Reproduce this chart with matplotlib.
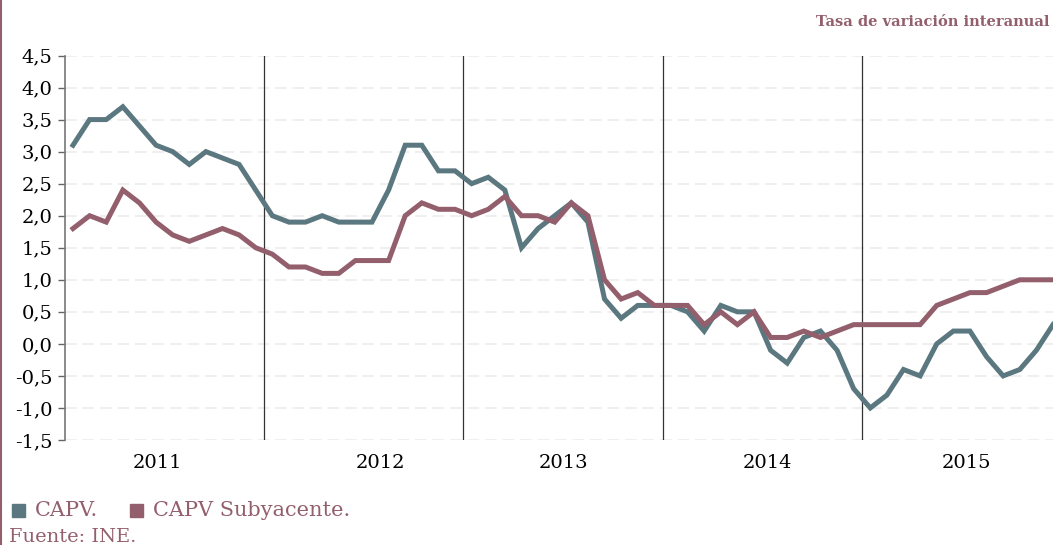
import matplotlib
matplotlib.use("Agg")
import matplotlib.pyplot as plt
from matplotlib.lines import Line2D
from matplotlib.patches import Rectangle

# ---- data ----
years = ["2011", "2012", "2013", "2014", "2015"]
capv = [3.1, 3.5, 3.5, 3.7, 3.4, 3.1, 3.0, 2.8, 3.0, 2.9, 2.8, 2.4,
        2.0, 1.9, 1.9, 2.0, 1.9, 1.9, 1.9, 2.4, 3.1, 3.1, 2.7, 2.7,
        2.5, 2.6, 2.4, 1.5, 1.8, 2.0, 2.2, 1.9, 0.7, 0.4, 0.6, 0.6,
        0.6, 0.5, 0.2, 0.6, 0.5, 0.5, -0.1, -0.3, 0.1, 0.2, -0.1, -0.7,
        -1.0, -0.8, -0.4, -0.5, 0.0, 0.2, 0.2, -0.2, -0.5, -0.4, -0.1, 0.3]
capv_sub = [1.8, 2.0, 1.9, 2.4, 2.2, 1.9, 1.7, 1.6, 1.7, 1.8, 1.7, 1.5,
            1.4, 1.2, 1.2, 1.1, 1.1, 1.3, 1.3, 1.3, 2.0, 2.2, 2.1, 2.1,
            2.0, 2.1, 2.3, 2.0, 2.0, 1.9, 2.2, 2.0, 1.0, 0.7, 0.8, 0.6,
            0.6, 0.6, 0.3, 0.5, 0.3, 0.5, 0.1, 0.1, 0.2, 0.1, 0.2, 0.3,
            0.3, 0.3, 0.3, 0.3, 0.6, 0.7, 0.8, 0.8, 0.9, 1.0, 1.0, 1.0]
yticks = [-1.5, -1.0, -0.5, 0.0, 0.5, 1.0, 1.5, 2.0, 2.5, 3.0, 3.5, 4.0, 4.5]
ytick_labels = [f"{v:.1f}".replace(".", ",") for v in yticks]
series_names = ["CAPV.", "CAPV Subyacente."]

# ---- style ----
C_BLUE = "#5b777f"
C_MAUVE = "#935f6d"
FONT = "DejaVu Serif"
plt.rcParams["font.family"] = [FONT, "DejaVu Sans"]

W, H = 1053, 545
fig = plt.figure(figsize=(W / 100, H / 100), dpi=100)
ax_left, ax_right = 64.7 / W, 1053 / W
ax_bottom, ax_top = (H - 440) / H, (H - 55.5) / H
ax = fig.add_axes([ax_left, ax_bottom, ax_right - ax_left, ax_top - ax_bottom])

x = list(range(len(capv)))
ax.plot(x, capv, color=C_BLUE, lw=3.6, solid_joinstyle="miter", zorder=3, clip_on=True)
ax.plot(x, capv_sub, color=C_MAUVE, lw=3.6, solid_joinstyle="miter", zorder=4, clip_on=True)

ax.set_xlim(-0.5, len(capv) - 1)
ax.set_ylim(-1.5, 4.5)

# gridlines
for v in yticks:
    ax.axhline(v, color="#ececec", lw=1.2, ls=(0, (7, 3.5)), zorder=1)

# year separators
for k in range(1, len(years)):
    ax.axvline(12 * k - 0.5, color="#333333", lw=0.9, zorder=2)

ax.set_yticks(yticks)
ax.set_yticklabels(ytick_labels, fontsize=14, color="#000000")
ax.tick_params(axis="y", length=5, width=1, color="#666666", pad=4)
ax.set_xticks([])
for s in ["top", "right", "bottom"]:
    ax.spines[s].set_visible(False)
ax.spines["left"].set_color("#777777")
ax.spines["left"].set_linewidth(1.2)

# year labels
year_pos = [5.1, 18.5, 29.5, 41.8, 53.8]
for lab, p in zip(years, year_pos):
    ax.text(p, -1.5 - 23 / 64, lab, ha="center", va="center", fontsize=14, color="#000000")

# title
fig.text(1050 / W, 1 - 22 / H, "Tasa de variación interanual", ha="right", va="center",
         fontsize=10.5, fontweight="bold", color=C_MAUVE)

# legend
def fx(px):
    return px / W

def fy(py):
    return 1 - py / H

fig.add_artist(Rectangle((fx(12), fy(517)), 13 / W, 13 / H, color=C_BLUE, transform=fig.transFigure))
fig.text(fx(35), fy(511), series_names[0], ha="left", va="center", fontsize=15, color=C_MAUVE)
fig.add_artist(Rectangle((fx(130), fy(517)), 13 / W, 13 / H, color=C_MAUVE, transform=fig.transFigure))
fig.text(fx(153), fy(511), series_names[1], ha="left", va="center", fontsize=15, color=C_MAUVE)
fig.text(fx(9), fy(537), "Fuente: INE.", ha="left", va="center", fontsize=14, color=C_MAUVE)

# left border
fig.add_artist(Line2D([1 / W, 1 / W], [0, 1], color=C_MAUVE, lw=1.5, transform=fig.transFigure))

fig.savefig("out.png", dpi=100)
